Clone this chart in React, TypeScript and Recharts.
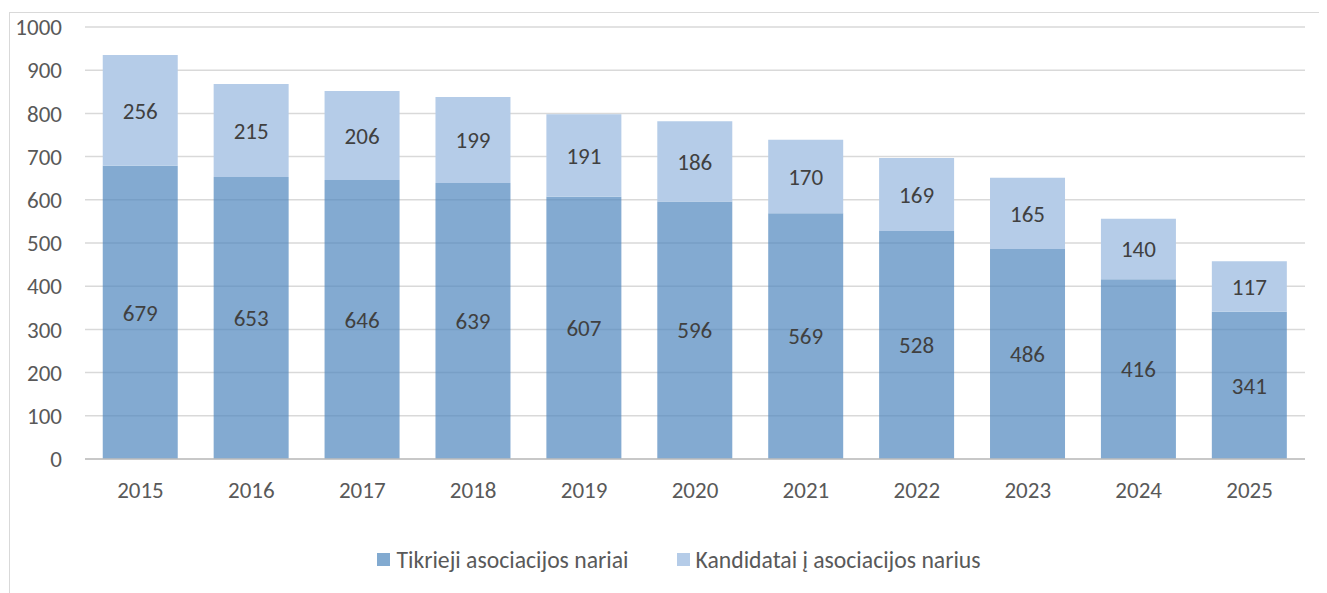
import React from "react";
import {
    BarChart,
    Bar,
    XAxis,
    YAxis,
    CartesianGrid,
    Legend,
    LabelList,
} from "recharts";

const years = ["2015", "2016", "2017", "2018", "2019", "2020", "2021", "2022", "2023", "2024", "2025"];
const members = [679, 653, 646, 639, 607, 596, 569, 528, 486, 416, 341];
const candidates = [256, 215, 206, 199, 191, 186, 170, 169, 165, 140, 117];
const yTicks = [0, 100, 200, 300, 400, 500, 600, 700, 800, 900, 1000];

const seriesNames = ["Tikrieji asociacijos nariai", "Kandidatai į asociacijos narius"];
const legendColors = ["#82AAD0", "#B5CCE8"];

const data = years.map((year, i) => ({
    year,
    members: members[i],
    candidates: candidates[i],
}));

const font = "Carlito, Calibri, 'Open Sans', sans-serif";

const LegendContent = () => (
    <div
        style={{
            display: "flex",
            justifyContent: "center",
            paddingLeft: 45,
            fontSize: 23.7,
            fontFamily: font,
            color: "#595959",
        }}
    >
        {seriesNames.map((name, i) => (
            <div key={name} style={{ display: "flex", alignItems: "center", marginLeft: i === 0 ? 0 : 48 }}>
                <span
                    style={{
                        display: "inline-block",
                        width: 13,
                        height: 13,
                        background: legendColors[i],
                        marginRight: 6,
                    }}
                />
                <span>{name}</span>
            </div>
        ))}
    </div>
);

const App: React.FC = () => (
    <div style={{ position: "relative", width: 1319, height: 585, overflow: "hidden", fontFamily: font }}>
        <div
            style={{
                position: "absolute",
                left: 1,
                top: 4,
                width: 1400,
                height: 700,
                border: "1px solid #d9d9d9",
                boxSizing: "border-box",
            }}
        />
        <div style={{ position: "absolute", left: 0, top: 0 }}>
            <BarChart
                width={1319}
                height={585}
                data={data}
                barCategoryGap="16%"
                margin={{ top: 19, right: 22, left: 0, bottom: 0 }}
            >
                <CartesianGrid vertical={false} stroke="#d9d9d9" strokeWidth={1.5} />
                <XAxis
                    dataKey="year"
                    axisLine={{ stroke: "#bfbfbf", strokeWidth: 1.5 }}
                    tickLine={false}
                    tickSize={0}
                    tickMargin={23}
                    height={86}
                    tick={{ fill: "#595959", fontSize: 23, fontFamily: font }}
                />
                <YAxis
                    domain={[0, 1000]}
                    ticks={yTicks}
                    axisLine={false}
                    tickLine={false}
                    tickSize={0}
                    tickMargin={23}
                    width={77}
                    tick={{ fill: "#595959", fontSize: 23, fontFamily: font }}
                />
                <Legend verticalAlign="bottom" height={48} content={<LegendContent />} />
                <Bar
                    dataKey="members"
                    name={seriesNames[0]}
                    stackId="a"
                    fill="#4F86BD"
                    fillOpacity={0.7}
                    isAnimationActive={false}
                >
                    <LabelList dataKey="members" position="center" fill="#404040" fontSize={23} fontFamily={font} />
                </Bar>
                <Bar
                    dataKey="candidates"
                    name={seriesNames[1]}
                    stackId="a"
                    fill="#B5CCE8"
                    isAnimationActive={false}
                >
                    <LabelList dataKey="candidates" position="center" fill="#404040" fontSize={23} fontFamily={font} />
                </Bar>
            </BarChart>
        </div>
    </div>
);

export default App;
